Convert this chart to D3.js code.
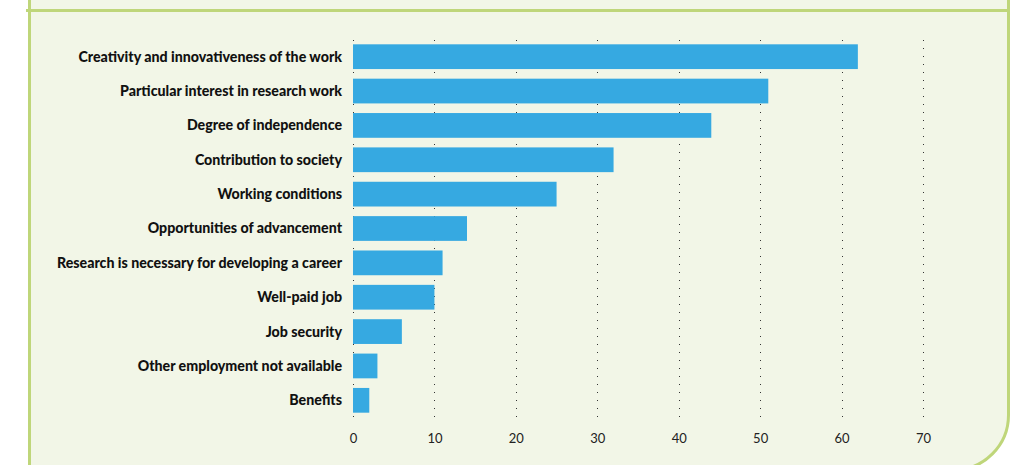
<!DOCTYPE html>
<html><head><meta charset="utf-8">
<script src="https://cdn.jsdelivr.net/npm/d3@7/dist/d3.min.js"></script>
<style>
html,body{margin:0;padding:0;background:#fff;}
svg{display:block;}
</style></head>
<body>
<svg id="chart" width="1011" height="465"></svg>
<script>
const categories = [
  "Creativity and innovativeness of the work",
  "Particular interest in research work",
  "Degree of independence",
  "Contribution to society",
  "Working conditions",
  "Opportunities of advancement",
  "Research is necessary for developing a career",
  "Well-paid job",
  "Job security",
  "Other employment not available",
  "Benefits"
];
const values = [62, 51, 44, 32, 25, 14, 11, 10, 6, 3, 2];
const tickValues = [0, 10, 20, 30, 40, 50, 60, 70];

const svg = d3.select("#chart");

// panel background & border
const bx0 = 29.5, by0 = 10.5, bx1 = 1008.5, by1 = 470, r = 55;
svg.append("path")
  .attr("d", `M${bx0},-5 L${bx0},${by1} L${bx1 - r},${by1} A${r},${r} 0 0 0 ${bx1},${by1 - r} L${bx1},-5 Z`)
  .attr("fill", "#f2f6e7");
svg.append("path")
  .attr("d", `M${bx0},-5 L${bx0},${by1} L${bx1 - r},${by1} A${r},${r} 0 0 0 ${bx1},${by1 - r} L${bx1},-5`)
  .attr("fill", "none").attr("stroke", "#bfd67a").attr("stroke-width", 3);
svg.append("line")
  .attr("x1", 26).attr("x2", bx1).attr("y1", by0).attr("y2", by0)
  .attr("stroke", "#bfd67a").attr("stroke-width", 3);

const x = d3.scaleLinear().domain([0, 70]).range([353, 923]);
const y = d3.scaleBand().domain(categories).range([39.5, 417.5]).paddingInner(0.28).paddingOuter(0.14);

// dotted grid
svg.append("g").selectAll("line").data(tickValues).join("line")
  .attr("x1", d => Math.round(x(d)) + 0.5).attr("x2", d => Math.round(x(d)) + 0.5)
  .attr("y1", 40).attr("y2", 418)
  .attr("stroke", "#333").attr("stroke-width", 1)
  .attr("stroke-dasharray", "1,7");

// bars
svg.append("g").selectAll("rect").data(values).join("rect")
  .attr("x", x(0))
  .attr("y", (d, i) => y(categories[i]))
  .attr("width", d => x(d) - x(0))
  .attr("height", y.bandwidth())
  .attr("fill", "#36a9e1");

// category labels
svg.append("g").selectAll("text").data(categories).join("text")
  .attr("x", 342)
  .attr("y", d => y(d) + y.bandwidth() / 2)
  .attr("dy", "0.35em")
  .attr("text-anchor", "end")
  .attr("font-family", "Lato, 'Open Sans', sans-serif")
  .attr("font-weight", 900)
  .attr("font-size", 14.2)
  .attr("fill", "#111")
  .text(d => d);

// x axis tick labels
const axis = d3.axisBottom(x).tickValues(tickValues).tickSize(0).tickPadding(0).tickFormat(d3.format("d"));
const ag = svg.append("g").attr("transform", "translate(0,434)").call(axis);
ag.select(".domain").remove();
ag.selectAll("text")
  .attr("font-family", "Lato, 'Open Sans', sans-serif")
  .attr("font-size", 13)
  .attr("fill", "#222");
</script>
</body></html>
